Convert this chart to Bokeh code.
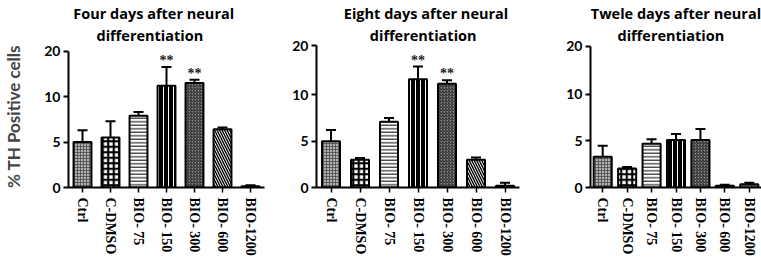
from bokeh.plotting import figure
from bokeh.models import ColumnDataSource, Whisker, TeeHead, FixedTicker, Title, FactorRange, Range1d
from bokeh.layouts import row
from bokeh.core.properties import value
from bokeh.embed import file_html
from bokeh.resources import INLINE

# ---------------- data ----------------
categories = ["Ctrl", "C-DMSO", "BIO- 75", "BIO- 150", "BIO- 300", "BIO- 600", "BIO-1200"]

day4_mean = [5.0, 5.5, 7.9, 12.4, 13.0, 6.4, 0.15]
day4_upper = [6.3, 7.3, 8.3, 16.5, 13.7, 6.6, 0.25]
day4_lower = [3.8, 3.6, 7.4, 8.9, 12.4, 6.2, 0.05]
day4_sig = ["", "", "", "**", "**", "", ""]

day8_mean = [5.0, 3.0, 7.1, 13.2, 12.3, 3.0, 0.2]
day8_upper = [6.2, 3.2, 7.5, 15.8, 13.0, 3.25, 0.5]
day8_lower = [3.7, 2.8, 6.8, 8.9, 11.6, 2.75, -0.1]
day8_sig = ["", "", "", "**", "**", "", ""]

day12_mean = [3.3, 2.05, 4.7, 5.1, 5.1, 0.2, 0.35]
day12_upper = [4.5, 2.2, 5.2, 5.75, 6.3, 0.3, 0.5]
day12_lower = [2.1, 1.9, 4.1, 4.2, 3.9, 0.1, 0.2]
day12_sig = ["", "", "", "", "", "", ""]

title_line1 = ["Four days after neural", "Eight days after neural", "Twele days after neural"]
title_line2 = ["differentiation", "differentiation", "differentiation"]
y_axis_label = "% TH Positive cells"
y_tick_values = [0, 5, 10, 20]

# ---------------- styles ----------------
fill_colors = ["#b0b0b0", "white", "white", "black", "#8a8a8a", "white", "white"]
hatch_patterns = ["+", "+", "-", "|", "/", "\\", "+"]
hatch_colors = ["#4a4a4a", "black", "black", "white", "#1e1e1e", "black", "#555555"]
hatch_scales = [3, 5.5, 3.5, 5, 3, 5, 3]
hatch_weights = [0.8, 2.2, 1, 1, 1, 1.4, 1]

BT = 45      # common top border
FH = 142     # common frame height
BB = 263 - BT - FH

# top20: pixel distance between frame top and the "20" tick
panels = [
    dict(width=256, bl=57, fw=196, br=3, top20=5.7, k=0.5, bw=0.64, tx1=4.7, tx2=28),
    dict(width=257, bl=49, fw=203, br=5, top20=0.4, k=0.53, bw=0.62, tx1=27.3, tx2=53.3),
    dict(width=248, bl=66, fw=171, br=11, top20=0.6, k=0.52, bw=0.74, tx1=0.3, tx2=27),
]
series = [
    (day4_mean, day4_upper, day4_lower, day4_sig),
    (day8_mean, day8_upper, day8_lower, day8_sig),
    (day12_mean, day12_upper, day12_lower, day12_sig),
]


def seg(v, k):
    # segmented axis: 0-10 linear, 10-20 compressed by factor k
    return v if v <= 10 else 10 + (v - 10) * k


figs = []
for i, (cfg, (mean, upper, lower, sig)) in enumerate(zip(panels, series)):
    k = cfg["k"]
    t20 = seg(20, k)
    yend = t20 * FH / (FH - cfg["top20"])
    p = figure(
        x_range=FactorRange(*categories, range_padding=0),
        y_range=Range1d(0, yend),
        width=cfg["width"], height=263,
        min_border_left=cfg["bl"], min_border_right=cfg["br"],
        min_border_top=BT, min_border_bottom=BB,
        frame_width=cfg["fw"], frame_height=FH,
        output_backend="svg", toolbar_location=None,
    )
    p.outline_line_color = None
    p.xgrid.grid_line_color = None
    p.ygrid.grid_line_color = None
    p.background_fill_color = "white"
    p.border_fill_color = "white"

    src = ColumnDataSource(dict(
        x=categories,
        top=[seg(v, k) for v in mean],
        upper=[seg(v, k) for v in upper],
        lower=[seg(v, k) for v in lower],
        sig=sig,
        fill=fill_colors, hp=hatch_patterns, hc=hatch_colors,
        hs=hatch_scales, hw=hatch_weights,
    ))
    p.vbar(x="x", top="top", bottom=0, width=cfg["bw"], source=src,
           fill_color="fill", hatch_pattern="hp", hatch_color="hc",
           hatch_scale="hs", hatch_weight="hw",
           line_color="black", line_width=2)
    w = Whisker(source=src, base="x", upper="upper", lower="lower",
                dimension="height", line_color="black", line_width=2,
                upper_head=TeeHead(size=10, line_width=2, line_color="black"),
                lower_head=TeeHead(size=10, line_width=2, line_color="black"))
    p.add_layout(w)
    p.text(x="x", y="upper", text="sig", source=src, text_align="center",
           text_baseline="bottom", y_offset=1, text_color="#222222",
           text_font=value("Liberation Serif"), text_font_size="14px",
           text_font_style="bold")

    yax = p.yaxis[0]
    yax.bounds = (0, t20)
    yax.ticker = FixedTicker(ticks=[seg(v, k) for v in y_tick_values])
    yax.major_label_overrides = {seg(v, k): str(v) for v in y_tick_values}
    yax.minor_tick_line_color = None
    yax.major_tick_out = 5
    yax.major_tick_in = 0
    yax.major_tick_line_width = 2
    yax.axis_line_width = 2
    yax.major_label_text_font = "Lato"
    yax.major_label_text_font_style = "bold"
    yax.major_label_text_font_size = "14px"
    yax.major_label_text_color = "black"
    yax.major_label_standoff = 3
    if i == 0:
        yax.axis_label = y_axis_label
        yax.axis_label_text_font = "Lato"
        yax.axis_label_text_font_style = "bold"
        yax.axis_label_text_font_size = "17px"
        yax.axis_label_standoff = 17

    xax = p.xaxis[0]
    xax.axis_line_width = 2
    xax.major_tick_out = 5
    xax.major_tick_in = 0
    xax.major_tick_line_width = 1.5
    xax.major_label_orientation = "vertical"
    xax.major_label_text_font = "Liberation Serif"
    xax.major_label_text_font_style = "bold"
    xax.major_label_text_font_size = "14px"
    xax.major_label_text_color = "black"
    xax.major_label_standoff = 5

    p.add_layout(Title(text=title_line2[i], align="left", offset=cfg["tx2"],
                       text_font="Open Sans", text_font_style="bold",
                       text_font_size="14.5px", text_color="black", standoff=0.5), "above")
    p.add_layout(Title(text=title_line1[i], align="left", offset=cfg["tx1"],
                       text_font="Open Sans", text_font_style="bold",
                       text_font_size="14.5px", text_color="black", standoff=1), "above")
    figs.append(p)

layout = row(*figs, spacing=0)
open("out.html", "w").write(file_html(layout, INLINE))
